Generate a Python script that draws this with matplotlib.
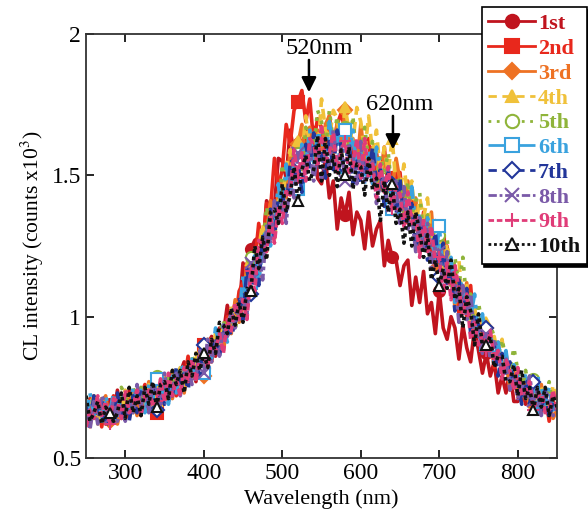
import numpy as np
import matplotlib
matplotlib.use("Agg")
import matplotlib.pyplot as plt

plt.rcParams["font.family"] = ["Liberation Serif", "DejaVu Serif"]
plt.rcParams["mathtext.fontset"] = "stix"

# wavelength grid (nm), 5 nm step; intensities in hundredths of (counts x10^3)
wl = np.arange(250, 851, 5)

s1 = [69, 62, 72, 64, 71, 62, 69, 65, 74, 64,
      66, 74, 68, 74, 65, 74, 71, 77, 69, 76,
      76, 70, 80, 74, 80, 84, 76, 84, 77, 85,
      82, 90, 93, 86, 96, 94, 104, 98, 105, 102,
      119, 112, 124, 127, 128, 123, 141, 138, 139, 156,
      155, 149, 166, 158, 161, 156, 166, 157, 167, 149,
      147, 156, 142, 148, 131, 142, 136, 144, 129, 137,
      134, 124, 137, 125, 131, 134, 118, 127, 121, 120,
      111, 118, 120, 104, 114, 105, 116, 101, 105, 94,
      109, 96, 92, 100, 96, 85, 97, 89, 84, 96,
      88, 80, 87, 79, 84, 73, 79, 73, 81, 70,
      70, 77, 69, 74, 70, 72, 68, 73, 64, 69,
      67]
s2 = [63, 71, 65, 70, 61, 70, 66, 72, 64, 70,
      69, 64, 73, 67, 72, 76, 67, 75, 66, 74,
      71, 77, 80, 72, 81, 77, 86, 78, 83, 79,
      90, 85, 84, 93, 93, 89, 100, 97, 98, 109,
      112, 106, 116, 119, 133, 124, 140, 138, 156, 146,
      152, 168, 161, 173, 176, 180, 169, 177, 162, 170,
      167, 158, 171, 161, 168, 172, 166, 167, 153, 162,
      153, 161, 163, 147, 158, 149, 160, 145, 149, 138,
      151, 138, 133, 141, 136, 125, 137, 128, 123, 134,
      126, 113, 125, 111, 118, 101, 110, 100, 111, 93,
      93, 99, 90, 94, 82, 89, 83, 87, 76, 81,
      77, 70, 78, 70, 74, 76, 66, 73, 63, 70,
      68]
s3 = [67, 61, 71, 63, 69, 72, 63, 70, 62, 69,
      64, 71, 73, 65, 73, 69, 77, 69, 73, 68,
      79, 72, 71, 79, 78, 73, 83, 79, 78, 89,
      79, 82, 92, 87, 95, 88, 97, 94, 106, 98,
      104, 119, 112, 124, 113, 130, 129, 141, 131, 144,
      148, 142, 159, 152, 161, 168, 156, 167, 155, 166,
      159, 168, 171, 157, 169, 161, 173, 159, 163, 153,
      168, 156, 152, 160, 156, 145, 158, 149, 145, 156,
      148, 136, 148, 135, 142, 126, 135, 126, 137, 120,
      118, 127, 114, 120, 103, 113, 106, 112, 96, 102,
      97, 89, 96, 87, 90, 91, 80, 85, 74, 80,
      72, 77, 78, 68, 75, 69, 76, 67, 70, 64,
      67]
s4 = [63, 69, 72, 62, 71, 66, 66, 65, 70, 64,
      74, 68, 66, 74, 72, 67, 76, 72, 70, 80,
      78, 71, 81, 75, 82, 74, 82, 78, 88, 80,
      82, 92, 86, 94, 86, 97, 95, 103, 97, 105,
      108, 102, 120, 113, 124, 133, 123, 136, 127, 141,
      141, 153, 159, 148, 162, 157, 171, 159, 165, 157,
      177, 166, 163, 173, 170, 160, 174, 166, 162, 174,
      169, 158, 171, 158, 166, 150, 160, 151, 163, 146,
      144, 154, 141, 148, 131, 142, 135, 142, 126, 133,
      126, 114, 126, 113, 118, 120, 104, 111, 96, 103,
      94, 98, 98, 87, 93, 86, 92, 81, 83, 76,
      82, 74, 71, 77, 74, 67, 75, 70, 67, 76,
      69]
s5 = [72, 65, 64, 70, 69, 63, 65, 67, 66, 75,
      72, 66, 75, 69, 75, 67, 74, 70, 79, 70,
      72, 80, 74, 81, 72, 82, 79, 86, 78, 86,
      86, 82, 92, 87, 94, 99, 92, 101, 95, 104,
      102, 114, 121, 110, 126, 123, 139, 129, 138, 133,
      154, 146, 146, 159, 158, 151, 167, 161, 159, 173,
      169, 159, 173, 162, 171, 156, 167, 159, 171, 155,
      156, 167, 155, 162, 146, 157, 151, 158, 143, 150,
      147, 136, 148, 136, 141, 144, 128, 136, 121, 129,
      129, 127, 128, 111, 121, 111, 121, 105, 108, 96,
      105, 96, 92, 97, 93, 85, 92, 85, 81, 89,
      81, 73, 81, 73, 78, 68, 74, 69, 77, 67,
      70]
s6 = [63, 73, 65, 69, 63, 72, 66, 73, 65, 72,
      71, 66, 75, 70, 74, 66, 76, 71, 78, 71,
      76, 69, 79, 73, 83, 81, 77, 85, 77, 85,
      80, 88, 85, 96, 90, 97, 91, 102, 103, 99,
      115, 105, 112, 122, 112, 125, 132, 125, 132, 147,
      136, 154, 144, 154, 145, 161, 154, 166, 153, 164,
      164, 155, 169, 160, 165, 151, 166, 156, 166, 153,
      158, 147, 159, 147, 160, 153, 145, 153, 138, 145,
      135, 142, 135, 146, 132, 137, 123, 135, 130, 119,
      132, 116, 117, 121, 105, 111, 112, 99, 100, 108,
      93, 101, 90, 93, 84, 91, 83, 88, 77, 83,
      79, 72, 80, 73, 76, 66, 75, 69, 75, 67,
      69]
s7 = [68, 62, 72, 65, 70, 61, 65, 65, 73, 65,
      69, 63, 72, 66, 75, 73, 68, 76, 67, 74,
      69, 75, 72, 82, 75, 81, 74, 84, 83, 79,
      90, 83, 86, 93, 86, 94, 98, 93, 98, 107,
      99, 117, 108, 118, 111, 129, 124, 138, 128, 142,
      143, 137, 154, 148, 155, 144, 161, 153, 165, 154,
      159, 149, 162, 152, 166, 160, 153, 162, 147, 155,
      147, 155, 149, 160, 147, 152, 139, 151, 147, 136,
      149, 134, 135, 140, 124, 131, 132, 120, 121, 130,
      114, 126, 111, 115, 102, 113, 102, 110, 94, 101,
      97, 89, 96, 88, 90, 79, 87, 79, 84, 75,
      77, 69, 77, 69, 77, 73, 67, 74, 64, 70,
      68]
s8 = [67, 60, 70, 62, 72, 69, 64, 71, 63, 69,
      63, 70, 66, 76, 68, 74, 66, 76, 74, 69,
      80, 71, 74, 80, 72, 79, 82, 76, 79, 88,
      80, 92, 84, 91, 86, 97, 93, 102, 96, 105,
      107, 101, 119, 113, 122, 113, 132, 126, 141, 133,
      140, 133, 149, 142, 158, 155, 150, 161, 148, 158,
      149, 158, 153, 166, 154, 160, 148, 161, 157, 147,
      162, 148, 150, 155, 140, 147, 149, 137, 139, 148,
      133, 146, 131, 136, 123, 135, 124, 133, 117, 125,
      123, 111, 123, 111, 114, 98, 111, 99, 108, 93,
      96, 87, 94, 85, 92, 87, 80, 85, 74, 79,
      71, 76, 71, 79, 70, 74, 65, 74, 71, 65,
      68]
s9 = [61, 67, 64, 72, 65, 70, 62, 71, 70, 64,
      74, 66, 68, 74, 65, 72, 74, 68, 70, 78,
      70, 80, 72, 78, 72, 82, 77, 85, 77, 86,
      86, 82, 92, 88, 94, 87, 99, 95, 105, 99,
      106, 99, 116, 109, 127, 126, 123, 136, 126, 139,
      133, 145, 143, 159, 149, 158, 148, 163, 161, 153,
      168, 155, 158, 165, 151, 159, 162, 151, 153, 163,
      149, 163, 149, 154, 142, 154, 144, 153, 138, 146,
      143, 132, 144, 133, 136, 121, 134, 123, 132, 118,
      121, 108, 119, 106, 118, 110, 101, 108, 92, 98,
      90, 94, 88, 95, 85, 88, 78, 85, 81, 74,
      82, 72, 73, 77, 67, 72, 73, 66, 67, 74,
      67]
s10 = [72, 63, 66, 70, 62, 68, 66, 63, 66, 73,
       64, 75, 66, 72, 65, 75, 69, 77, 68, 76,
       77, 71, 81, 76, 81, 73, 84, 79, 87, 81,
       87, 82, 92, 87, 98, 97, 94, 103, 97, 105,
       98, 110, 109, 125, 117, 128, 120, 137, 138, 133,
       147, 137, 143, 153, 141, 152, 157, 148, 152, 164,
       148, 163, 150, 157, 146, 159, 150, 160, 145, 154,
       153, 143, 156, 145, 149, 134, 148, 137, 147, 133,
       138, 126, 137, 125, 137, 130, 121, 129, 113, 120,
       111, 117, 110, 120, 106, 110, 96, 107, 102, 90,
       101, 90, 90, 93, 82, 86, 86, 77, 77, 83,
       72, 81, 71, 75, 67, 75, 68, 75, 65, 72,
       68]

series = [s1, s2, s3, s4, s5, s6, s7, s8, s9, s10]
labels = ["1st", "2nd", "3rd", "4th", "5th", "6th", "7th", "8th", "9th", "10th"]
colors = ["#c0141e", "#e8281c", "#ee7224", "#f0c13a", "#8fb43a",
          "#3aa2de", "#22369a", "#7a5aa8", "#e03c78", "#111111"]
markers = ["o", "s", "D", "^", "o", "s", "D", "x", "+", "^"]
filled = [True, True, True, True, False, False, False, True, True, False]
styles = ["-", "-", "-", (0, (3, 2)), (0, (1, 2)), (0, (6, 2, 1, 2)),
          (0, (3, 2)), (0, (3, 1, 1, 1)), (0, (2, 1)), (0, (1, 1))]

fig = plt.figure(figsize=(5.88, 5.26), dpi=100)
ax = fig.add_axes([0.1463, 0.1293, 0.801, 0.8061])

for y, lab, c, m, f, ls in zip(series, labels, colors, markers, filled, styles):
    ax.plot(wl, np.array(y) / 100, color=c, lw=2.6, ls=ls, marker=m,
            ms=8 if m not in "D^" else 7,
            mfc=c if f else "white", mec=c, mew=1.5,
            markevery=(6, 12), label=lab)

ax.set_xlim(250, 850)
ax.set_ylim(0.5, 2)
ax.set_xticks([300, 400, 500, 600, 700, 800])
ax.set_yticks([0.5, 1, 1.5, 2])
ax.set_yticklabels(["0.5", "1", "1.5", "2"])
ax.tick_params(direction="in", top=True, right=True, labelsize=17, length=6, width=1.2)
for sp in ax.spines.values():
    sp.set_linewidth(1.3)
    sp.set_color("#333333")
ax.set_xlabel("Wavelength (nm)", fontsize=16)
ax.set_ylabel("CL intensity (counts x10$^3$)", fontsize=15.5)

ax.annotate("", xy=(534, 1.784), xytext=(534, 1.918),
            arrowprops=dict(arrowstyle="-|>", color="black", lw=1.8, mutation_scale=22))
ax.text(547, 1.950, "520nm", ha="center", va="center", fontsize=17.5)
ax.annotate("", xy=(641, 1.582), xytext=(641, 1.72),
            arrowprops=dict(arrowstyle="-|>", color="black", lw=1.8, mutation_scale=22))
ax.text(650, 1.752, "620nm", ha="center", va="center", fontsize=17.5)

leg = ax.legend(loc="upper right", bbox_to_anchor=(587 / 588, 1 - 7 / 526),
                bbox_transform=fig.transFigure, borderaxespad=0,
                prop={"family": "Liberation Serif", "weight": "bold", "size": 16},
                handlelength=2.1, labelspacing=0.19, handletextpad=0.15,
                borderpad=0.3, fancybox=False, framealpha=1, markerscale=1.2,
                shadow={"color": "black", "alpha": 1})
leg.get_frame().set_edgecolor("black")
leg.get_frame().set_linewidth(1.2)
for t, c in zip(leg.get_texts(), colors):
    t.set_color(c)
for h in leg.get_lines():
    h.set_linewidth(2)

fig.savefig("out.png", dpi=100)
